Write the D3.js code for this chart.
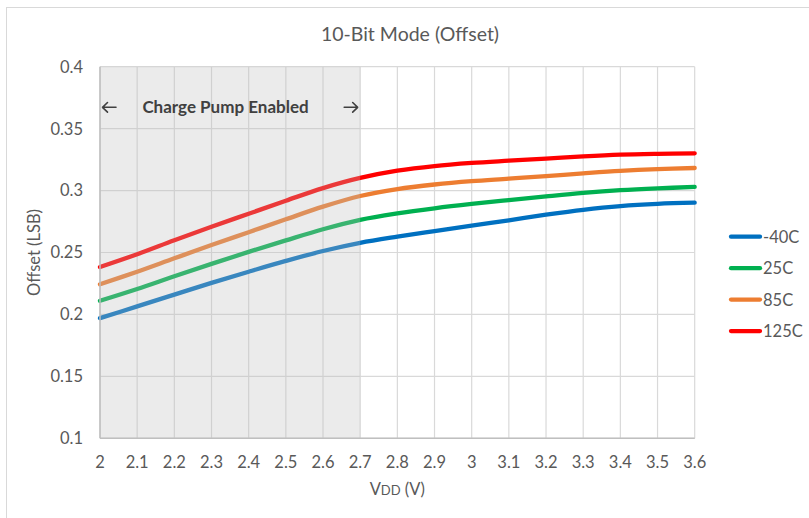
<!DOCTYPE html>
<html><head><meta charset="utf-8">
<script src="https://cdn.jsdelivr.net/npm/d3@7"></script>
<style>
body{margin:0;background:#fff}
svg text{font-family:Lato, "Open Sans", sans-serif}
</style>
</head><body>
<svg id="chart" width="809" height="518"></svg>
<script>
const vdd = [2.0,2.1,2.2,2.3,2.4,2.5,2.6,2.7,2.8,2.9,3.0,3.1,3.2,3.3,3.4,3.5,3.6];
const seriesNames = ["-40C","25C","85C","125C"];
const seriesColors = ["#0070C0","#00B050","#ED7D31","#FF0000"];
const offsetM40C = [0.197,0.2065,0.216,0.2255,0.2345,0.2432,0.2512,0.2578,0.2628,0.2673,0.2717,0.2760,0.2805,0.2845,0.2875,0.2893,0.2902];
const offset25C  = [0.211,0.2205,0.2308,0.2408,0.2505,0.2598,0.2688,0.2764,0.2816,0.2857,0.2892,0.2923,0.2953,0.2981,0.3003,0.3018,0.3029];
const offset85C  = [0.2243,0.2345,0.2453,0.2560,0.2664,0.2768,0.2870,0.2956,0.3012,0.3049,0.3076,0.3096,0.3117,0.3139,0.3159,0.3173,0.3182];
const offset125C = [0.2383,0.2486,0.2599,0.2708,0.2813,0.2918,0.3020,0.3102,0.3160,0.3198,0.3223,0.3241,0.3258,0.3276,0.3290,0.3297,0.3301];
const seriesValues = [offsetM40C, offset25C, offset85C, offset125C];
const xTicks = [2,2.1,2.2,2.3,2.4,2.5,2.6,2.7,2.8,2.9,3,3.1,3.2,3.3,3.4,3.5,3.6];
const yTicks = [0.1,0.15,0.2,0.25,0.3,0.35,0.4];
const shadeRange = [2.0, 2.7];
const chartTitle = "10-Bit Mode (Offset)";
const shadeLabel = "Charge Pump Enabled";

const svg = d3.select("#chart");
const L = 100, R = 694.7, T = 66.7, B = 438.3;
const x = d3.scaleLinear().domain([2,3.6]).range([L,R]);
const y = d3.scaleLinear().domain([0.1,0.4]).range([B,T]);
const txt = "#595959";

// outer border
svg.append("rect").attr("x",6.5).attr("y",7.5).attr("width",820).attr("height",530)
  .attr("fill","#fff").attr("stroke","#d9d9d9").attr("stroke-width",1);

// gridlines
svg.append("g").selectAll("line").data(yTicks).join("line")
  .attr("x1",L).attr("x2",R).attr("y1",d=>y(d)).attr("y2",d=>y(d))
  .attr("stroke","#d9d9d9").attr("stroke-width",1.2);
svg.append("g").selectAll("line").data(xTicks).join("line")
  .attr("y1",T).attr("y2",B).attr("x1",d=>x(d)).attr("x2",d=>x(d))
  .attr("stroke","#d9d9d9").attr("stroke-width",1.2);

// series lines
const line = d3.line().x((d,i)=>x(vdd[i])).y(d=>y(d)).curve(d3.curveCatmullRom.alpha(0.5));
svg.append("g").selectAll("path").data(seriesValues).join("path")
  .attr("d",d=>line(d)).attr("fill","none")
  .attr("stroke",(d,i)=>seriesColors[i]).attr("stroke-width",4.3)
  .attr("stroke-linecap","round").attr("stroke-linejoin","round");

// shaded overlay
svg.append("rect").attr("x",x(shadeRange[0])).attr("y",T)
  .attr("width",x(shadeRange[1])-x(shadeRange[0])).attr("height",B-T)
  .attr("fill","rgb(190,190,190)").attr("fill-opacity",0.3);

// axis lines
svg.append("line").attr("x1",L).attr("x2",R).attr("y1",B).attr("y2",B)
  .attr("stroke","#bfbfbf").attr("stroke-width",1.5);
svg.append("line").attr("x1",L).attr("x2",L).attr("y1",T).attr("y2",B)
  .attr("stroke","#bfbfbf").attr("stroke-width",1.5);

// tick labels
svg.append("g").selectAll("text").data(yTicks).join("text")
  .attr("x",83).attr("y",d=>y(d)+5.9).attr("text-anchor","end")
  .attr("font-size",16.5).attr("fill",txt).text(d=>d3.format("")(+d.toFixed(2)));
svg.append("g").selectAll("text").data(xTicks).join("text")
  .attr("x",d=>x(d)).attr("y",468.3).attr("text-anchor","middle")
  .attr("font-size",16.5).attr("fill",txt).text(d=>d3.format("")(+d.toFixed(1)));

// title
svg.append("text").attr("x",410).attr("y",40.7).attr("text-anchor","middle")
  .attr("font-size",19.5).attr("fill",txt).text(chartTitle);

// axis titles
const xt = svg.append("text").attr("x",(L+R)/2).attr("y",495).attr("text-anchor","middle")
  .attr("font-size",16.5).attr("fill",txt);
xt.append("tspan").text("V");
xt.append("tspan").attr("font-size",13).text("DD");
xt.append("tspan").text(" (V)");
svg.append("text").attr("transform","translate(40,"+((T+B)/2)+") rotate(-90)")
  .attr("text-anchor","middle").attr("font-size",16.5).attr("fill",txt).text("Offset (LSB)");

// shade label with arrows
svg.append("text").attr("x",225.5).attr("y",113.3)
  .attr("text-anchor","middle").attr("font-size",17).attr("font-weight","bold")
  .attr("fill","#404040").text(shadeLabel);
const ay = 107.3;
const arrows = svg.append("g").attr("fill","none").attr("stroke","#404040")
  .attr("stroke-width",1.6).attr("stroke-linecap","round").attr("stroke-linejoin","round");
const ax0 = x(shadeRange[0]) + 2.5, ax1 = x(shadeRange[1]) - 2.5;
arrows.append("path").attr("d",`M${ax0+13.5},${ay}H${ax0}M${ax0+5},${ay-4.8}L${ax0},${ay}L${ax0+5},${ay+4.8}`);
arrows.append("path").attr("d",`M${ax1-13.5},${ay}H${ax1}M${ax1-5},${ay-4.8}L${ax1},${ay}L${ax1-5},${ay+4.8}`);

// legend
const lg = svg.append("g").selectAll("g").data(seriesNames).join("g")
  .attr("transform",(d,i)=>"translate(0,"+(236.7+i*31.45)+")");
lg.append("line").attr("x1",731).attr("x2",760).attr("y1",0).attr("y2",0)
  .attr("stroke",(d,i)=>seriesColors[i]).attr("stroke-width",4.3).attr("stroke-linecap","round");
lg.append("text").attr("x",763).attr("y",5.9).attr("font-size",16.5).attr("fill",txt).text(d=>d);
</script>
</body></html>
